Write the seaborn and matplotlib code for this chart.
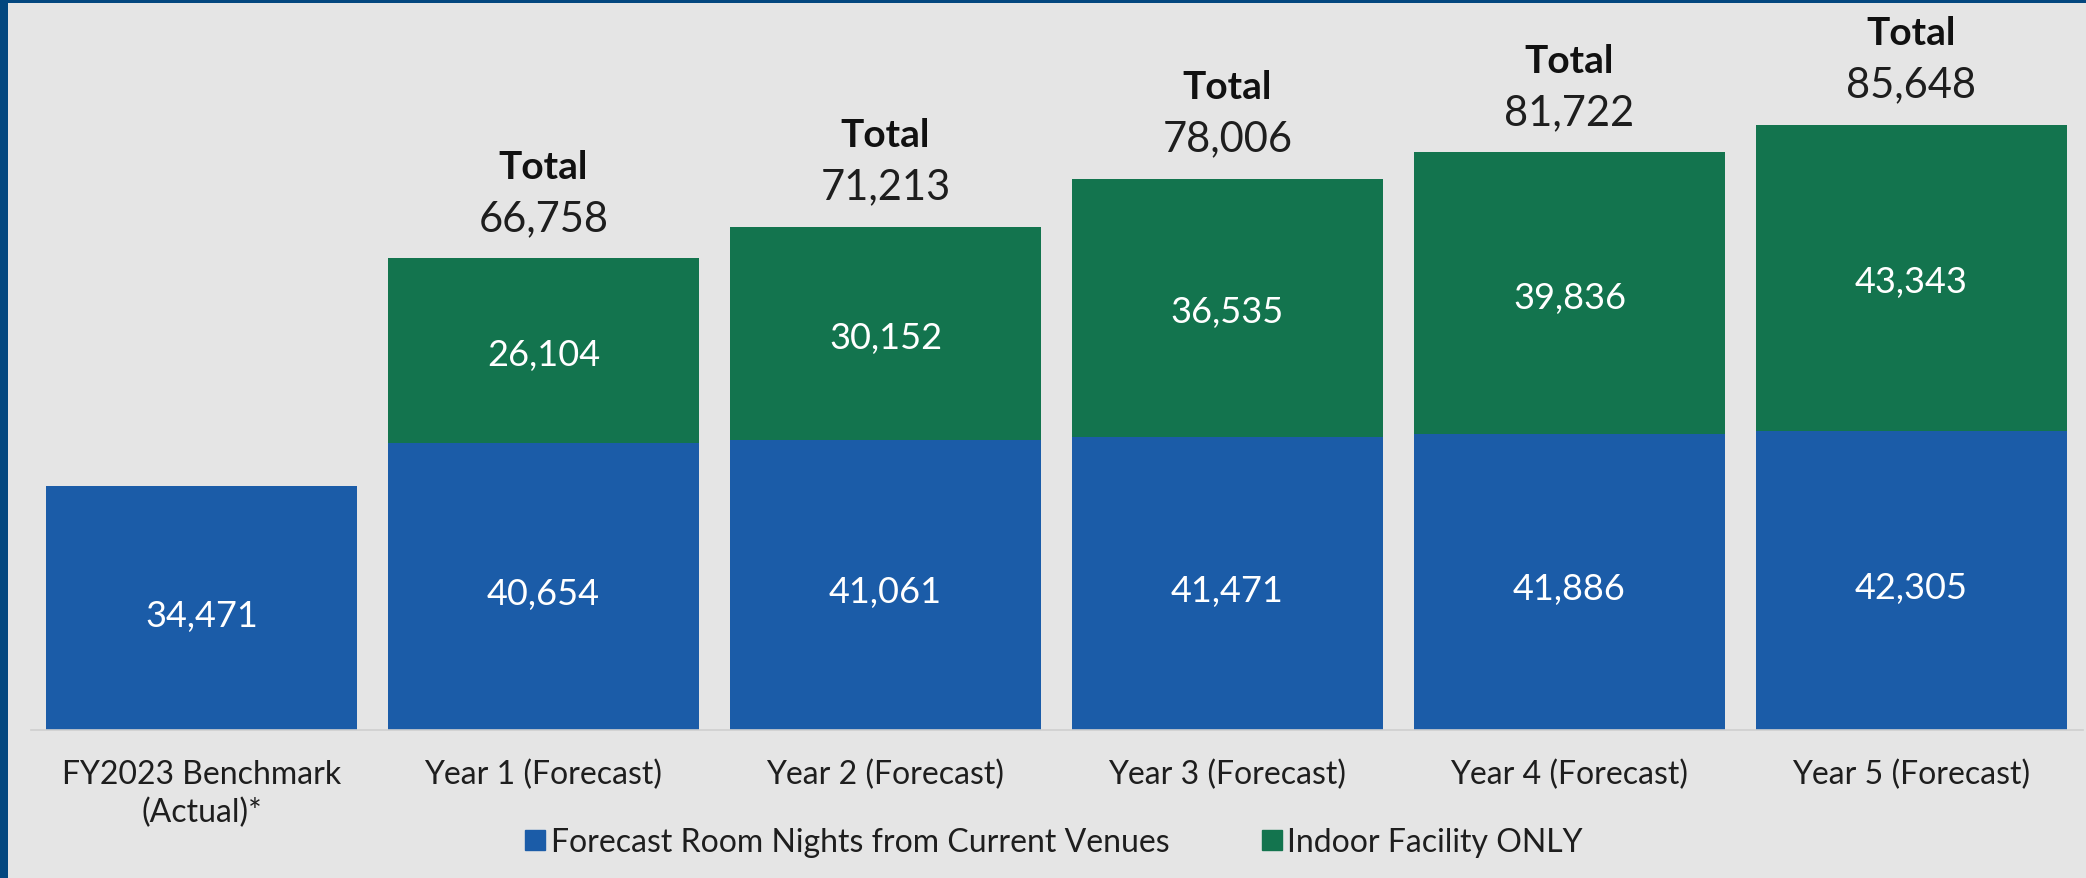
import matplotlib
matplotlib.use("Agg")
import matplotlib.pyplot as plt
from matplotlib.patches import Rectangle
from matplotlib.lines import Line2D
import seaborn as sns
import pandas as pd

categories = ["FY2023 Benchmark\n(Actual)*", "Year 1 (Forecast)", "Year 2 (Forecast)",
              "Year 3 (Forecast)", "Year 4 (Forecast)", "Year 5 (Forecast)"]
current_venues = [34471, 40654, 41061, 41471, 41886, 42305]
indoor_facility = [0, 26104, 30152, 36535, 39836, 43343]
totals = [None, 66758, 71213, 78006, 81722, 85648]
series_names = ["Forecast Room Nights from Current Venues", "Indoor Facility ONLY"]

BLUE = "#1b5ca8"
GREEN = "#13744e"
BG = "#e5e5e5"
FRAME = "#03477f"
TEXT = "#1e1e1e"

sns.set_theme(style="white")
plt.rcParams["font.family"] = ["Lato", "DejaVu Sans"]

df = pd.DataFrame({
    "category": categories,
    "current": current_venues,
    "indoor": indoor_facility,
})
df["stack_top"] = df["current"] + df["indoor"]

W, H = 2086, 879
fig = plt.figure(figsize=(W / 100, H / 100), dpi=100, facecolor=BG)
ax = fig.add_axes([30.5 / W, (H - 731) / H, (2082.5 - 30.5) / W, (731 - 10) / H])
ax.set_facecolor(BG)

# Full stack height in green, then the current-venue segment in blue on top of it
sns.barplot(data=df, x="category", y="stack_top", color=GREEN, width=0.91,
            saturation=1, ax=ax, linewidth=0)
sns.barplot(data=df, x="category", y="current", color=BLUE, width=0.91,
            saturation=1, ax=ax, linewidth=0)

ax.set_xlim(-0.5, 5.5)
ax.set_ylim(0, 102000)
ax.set_xlabel("")
ax.set_ylabel("")
ax.set_yticks([])
for side in ["top", "right", "left"]:
    ax.spines[side].set_visible(False)
ax.spines["bottom"].set_color("#cfcfcf")
ax.spines["bottom"].set_linewidth(1.2)
ax.tick_params(axis="x", length=0, pad=21, labelsize=23, labelcolor=TEXT)
for lbl in ax.get_xticklabels():
    lbl.set_linespacing(1.32)

# Segment value labels
for i, (c, g) in enumerate(zip(current_venues, indoor_facility)):
    ax.annotate(f"{c:,}", (i, c / 2), xytext=(0, -5), textcoords="offset points",
                ha="center", va="center", color="white", fontsize=26, zorder=5)
    if g:
        ax.annotate(f"{g:,}", (i, c + g / 2), xytext=(0, -3), textcoords="offset points",
                    ha="center", va="center", color="white", fontsize=26, zorder=5)

# Total labels above stacked bars
for i, t in enumerate(totals):
    if t is None:
        continue
    ax.annotate(f"{t:,}", (i, t), xytext=(0, 29), textcoords="offset points",
                ha="center", va="center", fontsize=30, color=TEXT)
    ax.annotate("Total", (i, t), xytext=(0, 66), textcoords="offset points",
                ha="center", va="center", fontsize=28, fontweight="bold", color="#111111")

handles = [Line2D([0], [0], marker="s", linestyle="none", markersize=15,
                  markerfacecolor=col, markeredgecolor=col)
           for col in (BLUE, GREEN)]
fig.legend(handles, series_names, loc="center", bbox_to_anchor=(0.503, (H - 843) / H),
           ncol=2, frameon=False, fontsize=23, handletextpad=-0.1, columnspacing=2.6,
           handlelength=1.2, labelcolor=TEXT)

# Dark frame along the top and left edges
fig.patches.append(Rectangle((0, 0), 8 / W, 1, transform=fig.transFigure,
                             facecolor=FRAME, edgecolor="none", zorder=10))
fig.patches.append(Rectangle((0, 1 - 4 / H), 1, 4 / H, transform=fig.transFigure,
                             facecolor=FRAME, edgecolor="none", zorder=10))

fig.savefig("out.png", dpi=100, facecolor=BG)
